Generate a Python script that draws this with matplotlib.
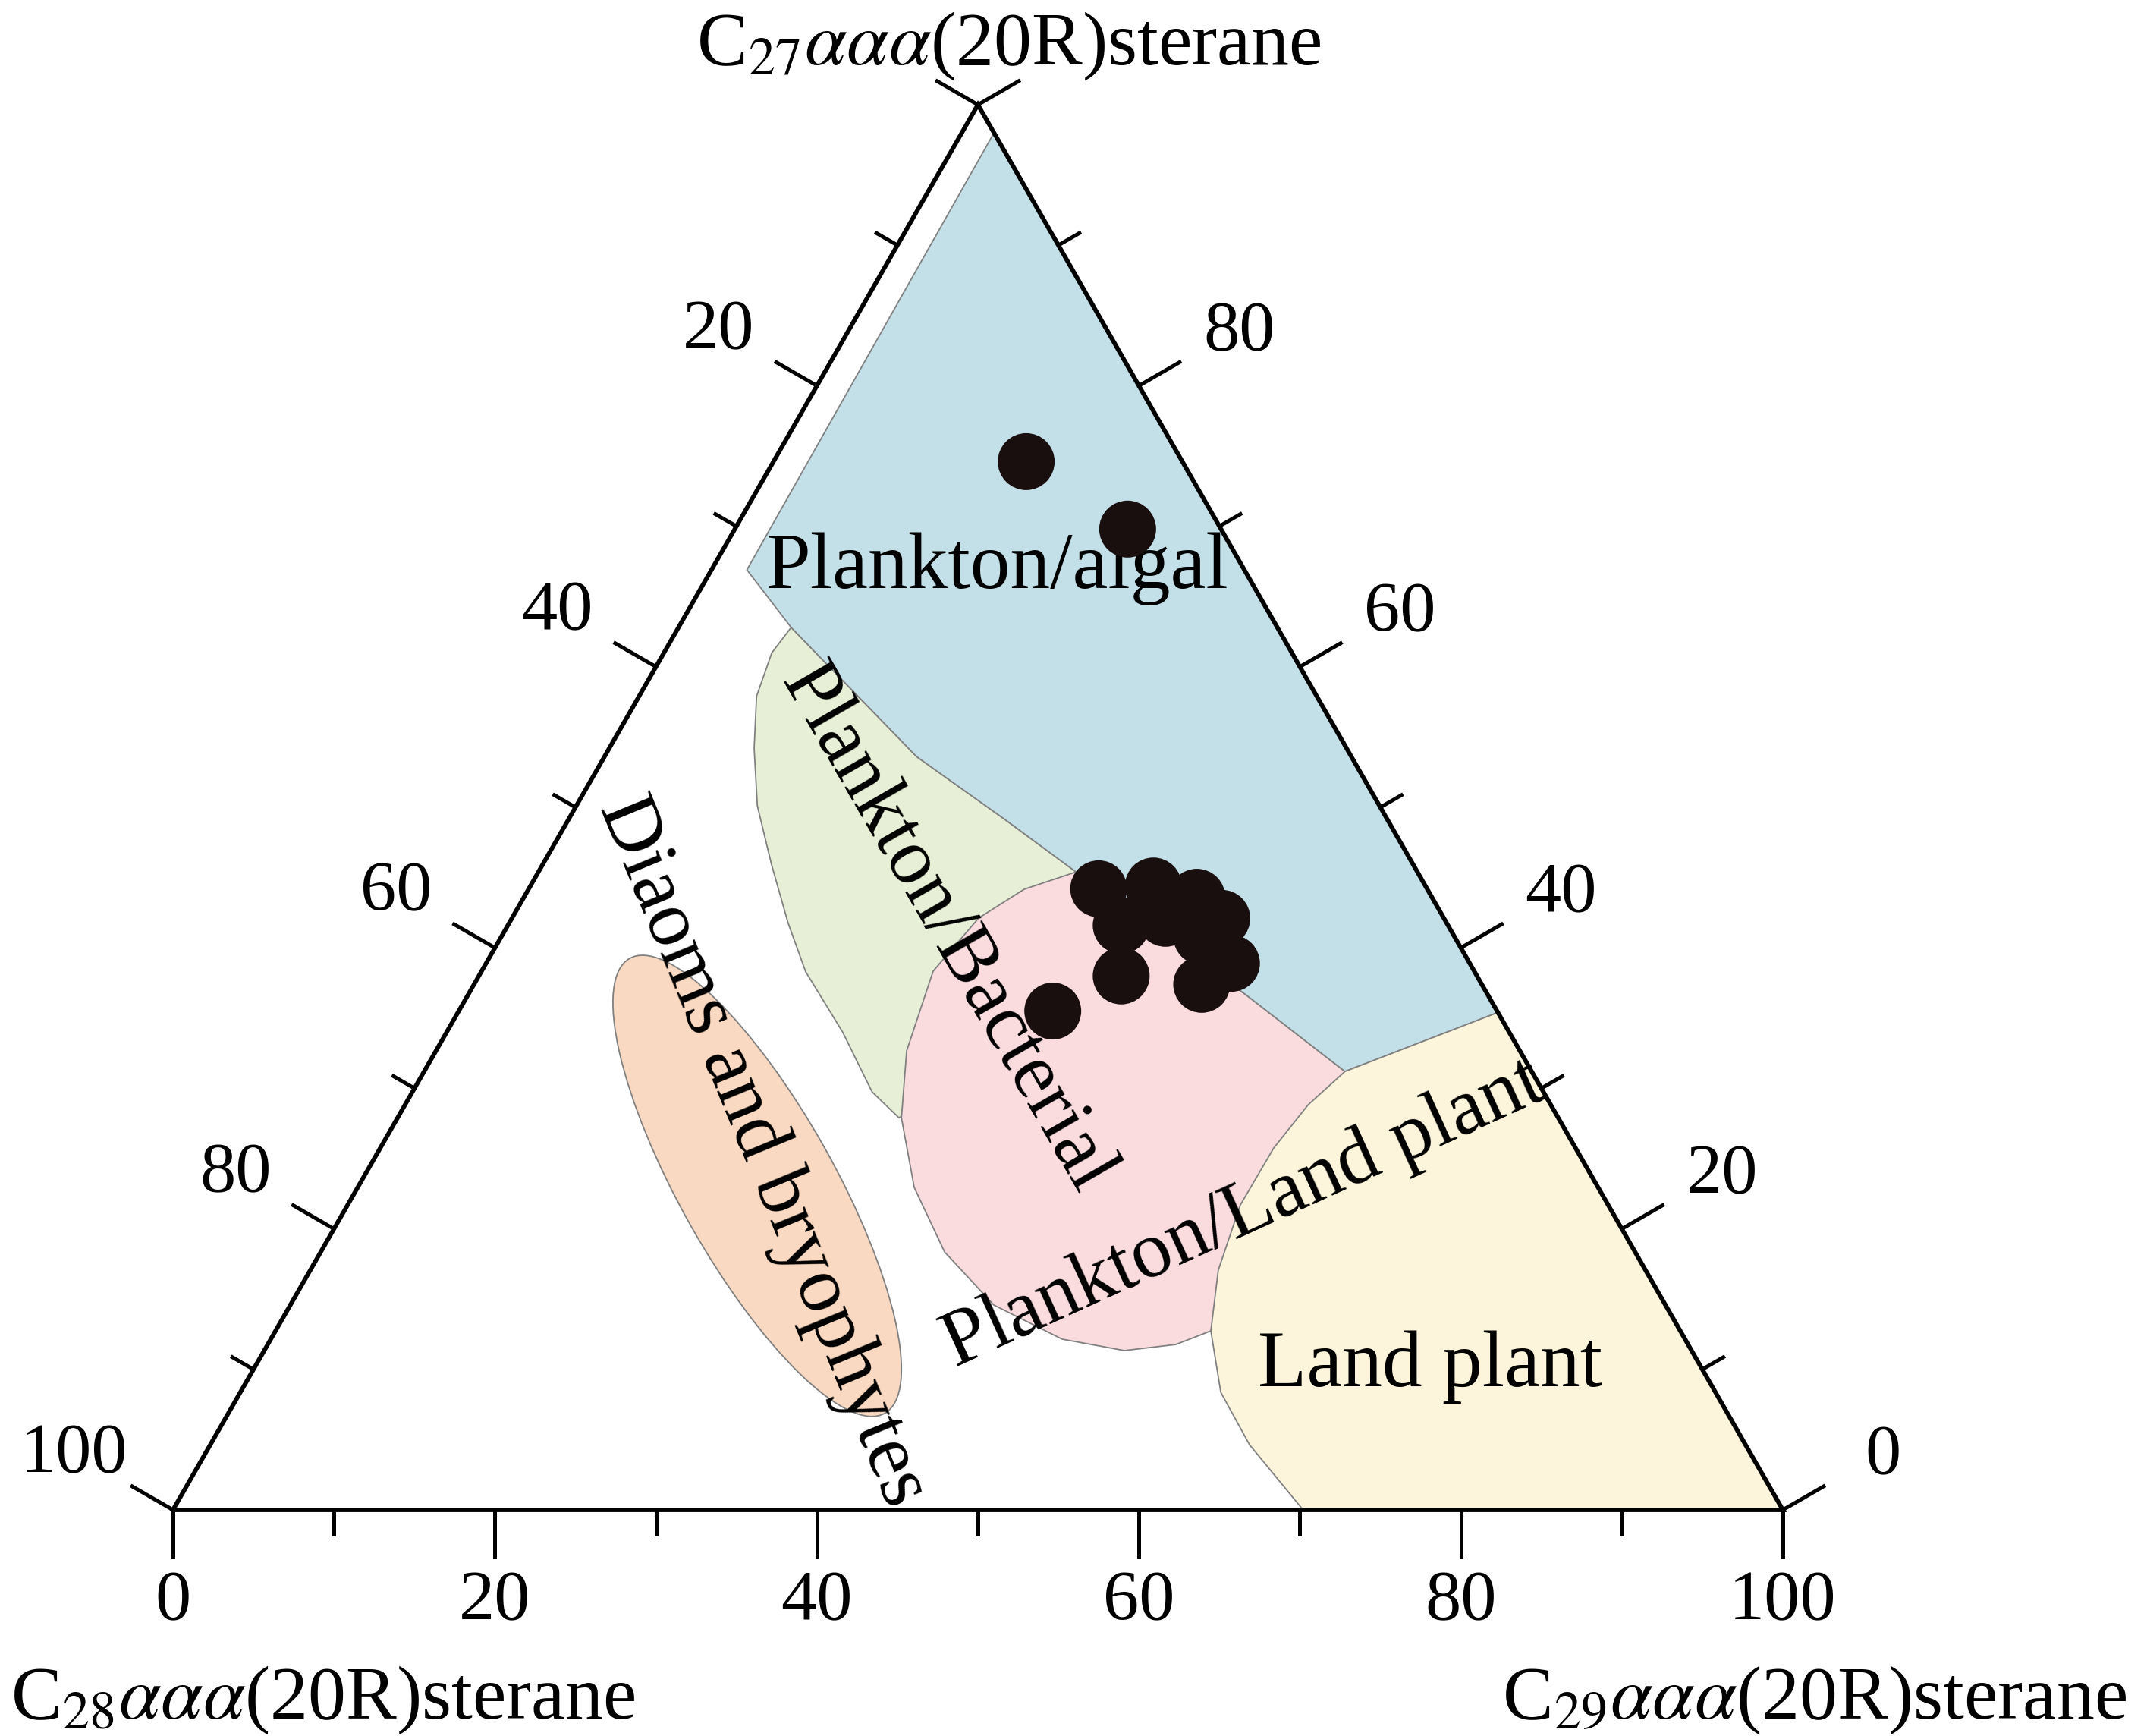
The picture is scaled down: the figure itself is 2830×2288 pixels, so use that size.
import numpy as np
import matplotlib.pyplot as plt
from matplotlib.patches import Polygon, Ellipse

plt.rcParams['font.family'] = ['Liberation Serif', 'DejaVu Serif']
plt.rcParams['mathtext.fontset'] = 'stix'

# sample compositions (%) : C27 / C28 / C29 aaa(20R) sterane
c27 = [74.6, 69.8, 44.2, 44.4, 43.6, 42.1, 38.9, 37.4, 38.0, 41.6, 42.1, 40.8, 35.5]
c28 = [9.7, 5.8, 20.4, 16.9, 14.6, 13.8, 14.8, 17.4, 22.1, 20.3, 17.3, 15.7, 27.6]
c29 = [15.7, 24.4, 35.4, 38.7, 41.8, 44.1, 46.3, 45.2, 39.9, 38.1, 40.6, 43.5, 36.9]

# source fields, vertices as (C27, C28, C29)
algal = [(98, 0, 2), (35.4, 0, 64.6), (31.2, 11.6, 57.2), (36.7, 15.05, 48.25),
         (45.4, 21.2, 33.4), (49.2, 23.8, 27.0), (53.6, 27.0, 19.4),
         (62.8, 30.2, 7.0), (66.9, 30.9, 2.2)]
bacterial = [(62.8, 30.2, 7.0), (61.0, 32.3, 6.7), (57.9, 34.8, 7.3), (54.2, 36.8, 9.0),
             (50.1, 38.65, 11.25), (45.95, 39.85, 14.2), (41.8, 40.9, 17.3),
             (38.3, 41.55, 20.15), (34.0, 41.4, 24.6), (29.75, 41.7, 28.55),
             (27.9, 40.95, 31.15), (34.6, 29.8, 35.6), (45.4, 21.2, 33.4),
             (49.2, 23.8, 27.0), (53.6, 27.0, 19.4)]
plank_land = [(45.4, 21.2, 33.4), (44.17, 25.04, 30.79), (42.12, 28.89, 28.99),
              (38.34, 33.61, 28.05), (32.67, 38.09, 29.24), (27.9, 40.8, 31.3),
              (22.95, 42.48, 34.57), (18.36, 42.89, 38.75), (14.58, 41.72, 43.7),
              (12.15, 38.69, 49.16), (11.34, 35.23, 53.43), (11.77, 31.82, 56.41),
              (12.74, 29.16, 58.1), (18.36, 22.4, 59.24), (26.46, 15.5, 58.04),
              (31.2, 11.6, 57.2), (36.7, 15.05, 48.25)]
land = [(35.4, 0, 64.6), (0, 0, 100), (0, 29.8, 70.2), (4.64, 30.81, 64.55),
        (8.37, 30.73, 60.9), (12.74, 29.16, 58.1), (17.06, 26.54, 56.4),
        (21.7, 22.85, 55.45), (25.76, 18.74, 55.5), (28.83, 15.07, 56.1),
        (31.2, 11.6, 57.2)]
diatom_center = (23.06, 52.18, 24.76)

H = np.sqrt(3) / 2


def proj(a, b, c):
    a, b, c = np.asarray(a, float), np.asarray(b, float), np.asarray(c, float)
    s = a + b + c
    a, c = a / s * 100, c / s * 100
    return c + a / 2, a * H


def field(ax, verts, color, z):
    v = np.array(verts)
    x, y = proj(v[:, 0], v[:, 1], v[:, 2])
    ax.add_patch(Polygon(np.column_stack([x, y]), closed=True, facecolor=color,
                         edgecolor='#808080', lw=1.3, zorder=z))


fig = plt.figure(figsize=(28.3, 22.88), dpi=100)
W, Hf = 2830, 2288
ax = fig.add_axes([228 / W, 1 - 1990 / Hf, (2350 - 228) / W, (1990 - 138) / Hf])
ax.set_xlim(0, 100)
ax.set_ylim(0, 100 * H)
ax.axis('off')

field(ax, bacterial, '#e7f0d6', 1)
field(ax, plank_land, '#fadcdf', 2)
field(ax, algal, '#c3dfe8', 3)
field(ax, land, '#fcf5db', 4)
ex, ey = proj(*diatom_center)
ax.add_patch(Ellipse((ex, ey), 32.2, 9.6, angle=-60.5, facecolor='#f9d9c1',
                     edgecolor='#808080', lw=1.3, zorder=4))

# triangle frame
tx, ty = proj([0, 100, 0, 0], [100, 0, 0, 100], [0, 0, 100, 0])
ax.plot(tx, ty, color='black', lw=4.2, zorder=6, clip_on=False, solid_joinstyle='miter')

# ticks
sx, sy = 21.22, 21.386  # pixels per unit
for v in range(0, 101, 10):
    L = 62 if v % 20 == 0 else 32
    ax.plot([v, v], [0, -L / sy], color='black', lw=3.6, clip_on=False, zorder=6)
    bx, by = 50 - v / 2, (100 - v) * H
    ax.plot([bx, bx - 0.866 * L / sx], [by, by + 0.5 * L / sy], color='black', lw=3.6,
            clip_on=False, zorder=6)
    rx, ry = 100 - v / 2, v * H
    ax.plot([rx, rx + 0.866 * L / sx], [ry, ry + 0.5 * L / sy], color='black', lw=3.6,
            clip_on=False, zorder=6)

fs_tick = 68
for v in range(0, 101, 20):
    ax.annotate(str(v), (v, 0), xytext=(0, -122), textcoords='offset pixels',
                ha='center', va='center', fontsize=fs_tick)
for v in range(20, 101, 20):
    ax.annotate(str(v), (50 - v / 2, (100 - v) * H), xytext=(-130, 72),
                textcoords='offset pixels', ha='center', va='center', fontsize=fs_tick)
for v in range(0, 81, 20):
    ax.annotate(str(v), (100 - v / 2, v * H), xytext=(132, 70),
                textcoords='offset pixels', ha='center', va='center', fontsize=fs_tick)

# samples
px_, py_ = proj(c27, c28, c29)
ax.scatter(px_, py_, s=2916, color='#1a0f0f', edgecolors='none', zorder=8, clip_on=False)

# field names
fs_lab = 76
ax.text(51.2, 58.0, 'Plankton/algal', fontsize=fs_lab, ha='center', va='center', zorder=7)
ax.text(48.0, 35.8, 'Plankton/Bacterial', fontsize=fs_lab, ha='center', va='center',
        rotation=-60, rotation_mode='anchor', zorder=7)
ax.text(36.6, 22.1, 'Diaoms and bryophytes', fontsize=fs_lab, ha='center', va='center',
        rotation=-67.6, rotation_mode='anchor', zorder=7)
ax.text(66.5, 18.2, 'Plankton/Land plant', fontsize=fs_lab, ha='center', va='center',
        rotation=24.5, rotation_mode='anchor', zorder=7)
ax.text(78.1, 8.8, 'Land plant', fontsize=fs_lab, ha='center', va='center', zorder=7)

# axis names
fs_ax = 72
fig.text(1330 / W, 1 - 85 / Hf, r'C$_{27}\alpha\alpha\alpha$(20R)sterane', fontsize=fs_ax,
         ha='center', va='baseline')
fig.text(426 / W, 1 - 2265 / Hf, r'C$_{28}\alpha\alpha\alpha$(20R)sterane', fontsize=fs_ax,
         ha='center', va='baseline')
fig.text(2392 / W, 1 - 2265 / Hf, r'C$_{29}\alpha\alpha\alpha$(20R)sterane', fontsize=fs_ax,
         ha='center', va='baseline')

fig.savefig('out.png', dpi=100, facecolor='white')
